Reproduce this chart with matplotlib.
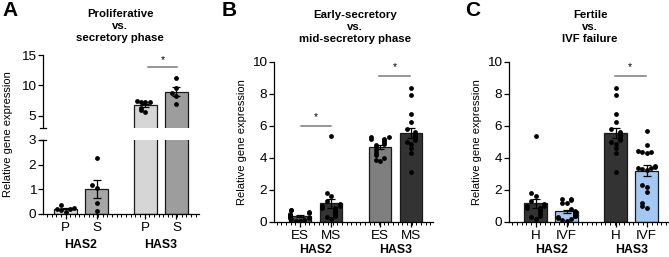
import numpy as np
import matplotlib
matplotlib.use("Agg")
import matplotlib.pyplot as plt
from matplotlib.ticker import MultipleLocator, FixedLocator

plt.rcParams['font.family'] = ['Liberation Sans', 'DejaVu Sans']

W, H = 669, 257

# values (relative gene expression)
a_has2_p = [0.20, 0.25, 0.18, 0.38, 0.22, 0.10]
a_has2_s = [2.27, 1.18, 1.05, 0.45, 0.12]
a_has3_p = [7.3, 7.2, 7.3, 7.4, 6.0, 5.6, 6.3]
a_has3_s = [11.2, 9.6, 8.8, 8.3, 7.0]

b_has2_es = [0.78, 0.72, 0.62, 0.55, 0.50, 0.45, 0.40, 0.35, 0.30, 0.28, 0.22, 0.18, 0.12, 0.08, 0.05]
b_has2_ms = [5.4, 1.8, 1.65, 1.3, 1.1, 1.0, 1.0, 0.9, 0.8, 0.7, 0.6, 0.5, 0.4, 0.3, 0.9, 0.2]
b_has3_es = [5.3, 5.3, 5.2, 5.2, 5.1, 5.0, 4.9, 4.8, 4.7, 4.5, 4.3, 4.2, 4.0, 3.9, 3.8]
b_has3_ms = [8.35, 7.95, 6.75, 6.25, 5.6, 5.5, 5.4, 5.3, 5.2, 5.1, 5.0, 4.9, 4.6, 4.3, 3.1, 5.8]

c_has2_h = b_has2_ms
c_has2_ivf = [1.45, 1.45, 1.4, 1.2, 1.2, 0.8, 0.7, 0.6, 0.55, 0.5, 0.45, 0.3, 0.2, 0.1, 0.05, 0.4, 0.35, 0.25]
c_has3_h = b_has3_ms
c_has3_ivf = [5.7, 4.8, 4.45, 4.4, 4.35, 4.3, 3.5, 3.45, 3.4, 3.35, 3.3, 3.25, 2.3, 2.2, 1.9, 1.2, 1.0, 0.9]

a_labels = ['P', 'S', 'P', 'S']
b_labels = ['ES', 'MS', 'ES', 'MS']
c_labels = ['H', 'IVF', 'H', 'IVF']
genes = ['HAS2', 'HAS3']

a_colors = ['#d9d9d9', '#a6a6a6', '#d6d6d6', '#9d9d9d']
b_colors = ['#4d4d4d', '#333333', '#7f7f7f', '#333333']
c_colors = ['#333333', '#a3c8f3', '#333333', '#a3c8f3']

pos = np.array([0, 1, 2.58, 3.58])
bar_w = 0.74


def fx(px):
    return px / W


def fy(py):
    return 1 - py / H


def add_ax(fig, left, right, top, bottom):
    return fig.add_axes([fx(left), fy(bottom), fx(right - left), (bottom - top) / H])


def swarm(vals, tol, step=0.14, lim=0.31):
    vals = np.asarray(vals, dtype=float)
    order = np.argsort(vals)
    offs = np.zeros(len(vals))
    placed = []
    for i in order:
        k = sum(1 for j in placed if abs(vals[i] - vals[j]) < tol)
        o = ((k + 1) // 2) * step * (-1) ** k
        offs[i] = np.clip(o, -lim, lim)
        placed.append(i)
    return offs


def draw_bars(ax, groups, colors, tol):
    for x, vals, col in zip(pos, groups, colors):
        vals = np.asarray(vals)
        m = vals.mean()
        sem = vals.std(ddof=1) / np.sqrt(len(vals))
        ax.bar(x, m, width=bar_w, color=col, edgecolor='#1a1a1a', linewidth=0.9, zorder=2)
        ax.errorbar(x, m, yerr=sem, color='black', capsize=3.2, elinewidth=0.9,
                    capthick=0.9, zorder=4)
        ax.scatter(x + swarm(vals, tol), vals, s=12, color='black', zorder=5, linewidths=0)


def style_ax(ax, xlim):
    ax.set_xlim(*xlim)
    for s in ['top', 'right']:
        ax.spines[s].set_visible(False)
    ax.spines['left'].set_linewidth(0.9)
    ax.spines['bottom'].set_linewidth(0.9)
    ax.tick_params(axis='y', labelsize=9.7, length=3.5, width=0.9, pad=1.5)


def xaxis(ax, labels, gene_off):
    ax.set_xticks(pos)
    ax.set_xticklabels(labels, fontsize=9.7)
    ax.xaxis.set_minor_locator(MultipleLocator(0.15))
    ax.tick_params(axis='x', which='major', length=3.5, width=0.9, pad=2)
    ax.tick_params(axis='x', which='minor', length=1.8, width=0.7)
    for g, x in zip(genes, [(pos[0] + pos[1]) / 2, (pos[2] + pos[3]) / 2]):
        ax.annotate(g, xy=(x, 0), xycoords=('data', 'axes fraction'), xytext=(0, gene_off),
                    textcoords='offset points', ha='center', va='center',
                    fontsize=8.8, fontweight='bold')


def sig(ax, x0, x1, y, star_off):
    ax.plot([x0, x1], [y, y], color='#7a7a7a', lw=1.1, zorder=3)
    ax.text((x0 + x1) / 2, y + star_off, '*', ha='center', va='bottom', fontsize=7.5)


fig = plt.figure(figsize=(W / 100, H / 100), dpi=100)

# panel A, broken axis
a_groups = [a_has2_p, a_has2_s, a_has3_p, a_has3_s]
xl_a = ((43 - 65.5) / 31, (199 - 65.5) / 31)
ax_lo = add_ax(fig, 43, 199, 140, 214)
ax_hi = add_ax(fig, 43, 199, 55, 128)
draw_bars(ax_lo, a_groups, a_colors, 0.16)
draw_bars(ax_hi, a_groups, a_colors, 0.65)
style_ax(ax_lo, xl_a)
style_ax(ax_hi, xl_a)
ax_lo.set_ylim(0, 3)
ax_lo.set_yticks([0, 1, 2, 3])
ax_hi.set_ylim(3, 15)
ax_hi.yaxis.set_major_locator(FixedLocator([5, 10, 15]))
ax_hi.spines['bottom'].set_visible(False)
ax_hi.set_xticks([])
xaxis(ax_lo, a_labels, -22)
for axx, yy in [(ax_lo, 1), (ax_hi, 0)]:
    axx.plot([-0.02, 0.02], [yy, yy], transform=axx.transAxes, color='black',
             lw=0.9, clip_on=False)
sig(ax_hi, 2.65, 3.6, 13.1, 0.3)

# panel B
b_groups = [b_has2_es, b_has2_ms, b_has3_es, b_has3_ms]
ax_b = add_ax(fig, 274, 433, 62, 222)
draw_bars(ax_b, b_groups, b_colors, 0.25)
style_ax(ax_b, ((274 - 300) / 31, (433 - 300) / 31))
ax_b.set_ylim(0, 10)
ax_b.set_yticks([0, 2, 4, 6, 8, 10])
xaxis(ax_b, b_labels, -20)
sig(ax_b, 0.02, 1.0, 6.0, 0.25)
sig(ax_b, 2.55, 3.55, 9.1, 0.25)

# panel C
c_groups = [c_has2_h, c_has2_ivf, c_has3_h, c_has3_ivf]
ax_c = add_ax(fig, 509, 669, 62, 222)
draw_bars(ax_c, c_groups, c_colors, 0.25)
style_ax(ax_c, ((509 - 535.7) / 31, (669 - 535.7) / 31))
ax_c.set_ylim(0, 10)
ax_c.set_yticks([0, 2, 4, 6, 8, 10])
xaxis(ax_c, c_labels, -20)
sig(ax_c, 2.55, 3.55, 9.1, 0.25)

# titles, letters, y labels
titles = [('Proliferative\nvs.\nsecretory phase', 120, 26),
          ('Early-secretory\nvs.\nmid-secretory phase', 355, 27),
          ('Fertile\nvs.\nIVF failure', 590, 27)]
for t, x, y in titles:
    fig.text(fx(x), fy(y), t, ha='center', va='center', fontsize=8.2,
             fontweight='bold', linespacing=1.2)
for letter, x in [('A', 2), ('B', 222), ('C', 465)]:
    fig.text(fx(x), fy(10), letter, ha='left', va='center', fontsize=15, fontweight='bold')
for x, y in [(8, 134), (242, 142), (477, 142)]:
    fig.text(fx(x), fy(y), 'Relative gene expression', rotation=90, ha='center',
             va='center', fontsize=8)

fig.savefig('out.png', dpi=100)
